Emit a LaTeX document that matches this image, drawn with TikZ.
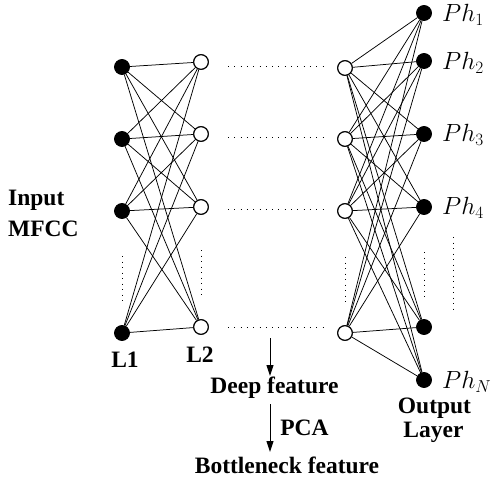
\documentclass[tikz,border=0pt]{standalone}
\usepackage{fontspec}
\setmainfont{Liberation Serif}
\usetikzlibrary{arrows.meta}
\begin{document}
\begin{tikzpicture}[x=1pt,y=-1pt,
  full/.style={circle,fill=black,draw=black,line width=0.8pt,minimum size=15pt,inner sep=0pt},
  hollow/.style={circle,fill=white,draw=black,line width=0.9pt,minimum size=15pt,inner sep=0pt},
  conn/.style={line width=0.75pt},
  hdots/.style={line width=0.9pt,dash pattern=on 0.9pt off 5.4pt},
  vdots/.style={line width=0.9pt,dash pattern=on 0.9pt off 4.6pt},
  lbl/.style={font=\fontsize{23.5}{25}\selectfont\bfseries,inner sep=0pt},
  phl/.style={font=\fontsize{24.5}{26}\selectfont,inner sep=0pt,anchor=west},
  arr/.style={line width=1pt,-{Triangle[length=11pt,width=7pt]}}
]
\useasboundingbox (0,0) rectangle (492,478);
% layer 1
\node[full] (a1) at (122,67) {};
\node[full] (a2) at (122,139) {};
\node[full] (a3) at (122,211) {};
\node[full] (a4) at (122,333) {};
% layer 2
\node[hollow] (b1) at (201,62) {};
\node[hollow] (b2) at (201,134) {};
\node[hollow] (b3) at (201,207) {};
\node[hollow] (b4) at (201,327) {};
% layer 3
\node[hollow] (c1) at (345,68) {};
\node[hollow] (c2) at (345,139) {};
\node[hollow] (c3) at (345,211) {};
\node[hollow] (c4) at (345,333) {};
% output
\node[full] (o1) at (424,13) {};
\node[full] (o2) at (424,61) {};
\node[full] (o3) at (424,134) {};
\node[full] (o4) at (424,207) {};
\node[full] (o5) at (424,327) {};
\node[full] (o6) at (424,380) {};
% connections
\foreach \i in {1,...,4}{
  \foreach \j in {1,...,4}{
    \draw[conn] (a\i) -- (b\j);
  }
  \foreach \j in {1,...,6}{
    \draw[conn] (c\i) -- (o\j);
  }
}
% redraw nodes on top
\foreach \n in {a1,a2,a3,a4,o1,o2,o3,o4,o5,o6}{\fill (\n) circle (7.5pt);}
\foreach \n in {b1,b2,b3,b4,c1,c2,c3,c4}{\filldraw[fill=white,line width=0.9pt] (\n) circle (7.2pt);}
% horizontal dotted lines
\coordinate (h1s) at (228,66); \coordinate (h1e) at (323,66);
\coordinate (h2s) at (228,137); \coordinate (h2e) at (323,137);
\coordinate (h3s) at (228,209); \coordinate (h3e) at (323,209);
\coordinate (h4s) at (228,327); \coordinate (h4e) at (323,327);
\foreach \k in {1,...,4}{\draw[hdots] (h\k s) -- (h\k e);}
% vertical dotted lines
\coordinate (v1s) at (122,256); \coordinate (v1e) at (122,303);
\coordinate (v2s) at (201,250); \coordinate (v2e) at (201,298);
\coordinate (v3s) at (345,257); \coordinate (v3e) at (345,304);
\coordinate (v4s) at (424,252); \coordinate (v4e) at (424,299);
\coordinate (v5s) at (453,237); \coordinate (v5e) at (453,313);
\foreach \k in {1,...,5}{\draw[vdots] (v\k s) -- (v\k e);}
% output labels
\node[phl] (p1) at (442,15) {$Ph_1$};
\node[phl] (p2) at (442,63) {$Ph_2$};
\node[phl] (p3) at (442,135) {$Ph_3$};
\node[phl] (p4) at (442,208) {$Ph_4$};
\node[phl] (p6) at (442,382) {$Ph_N$};
% text labels
\node[lbl,anchor=west] (in1) at (8,200) {Input};
\node[lbl,anchor=west] (in2) at (8,229) {MFCC};
\node[lbl] (l1) at (125,360) {L1};
\node[lbl] (l2) at (200,355) {L2};
\node[lbl] (deep) at (274.5,388) {Deep feature};
\node[lbl] (pca) at (304.5,428) {PCA};
\node[lbl] (bott) at (287,465.5) {Bottleneck feature};
\node[lbl] (out1) at (434.5,408) {Output};
\node[lbl] (out2) at (433.5,432) {Layer};
% arrows
\coordinate (ar1s) at (270,338);
\coordinate (ar1e) at (270,376);
\coordinate (ar2s) at (270,404);
\coordinate (ar2e) at (270,452);
\draw[arr] (ar1s) -- (ar1e);
\draw[arr] (ar2s) -- (ar2e);
\end{tikzpicture}
\end{document}
